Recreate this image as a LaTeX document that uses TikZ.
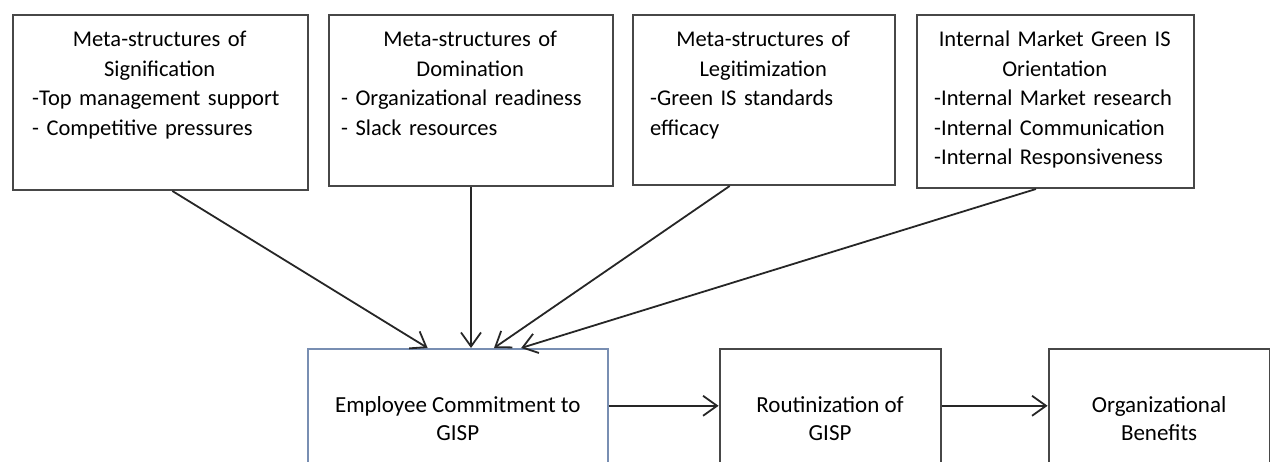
\documentclass[tikz,border=0pt]{standalone}
\usepackage{fontspec}
\setmainfont{Carlito}
\usetikzlibrary{positioning,arrows.meta,calc}
\setlength{\parindent}{0pt}
\hyphenpenalty=10000
\definecolor{empblue}{RGB}{120,142,178}

\begin{document}
\begin{tikzpicture}[
  x=1pt, y=1pt,
  >={Straight Barb[length=14pt,width=20pt]},
  topbox/.style={draw=black!72,line width=2pt,anchor=north west,inner sep=0pt},
  toptext/.style={anchor=north west,inner ysep=17pt,font=\fontsize{22.5}{29.5}\selectfont},
  flowbox/.style={draw=black!72,line width=2pt,minimum height=140pt,align=center,
    font=\fontsize{23}{28}\selectfont},
  arrow/.style={->,line width=1.8pt,draw=black!85}
]
\useasboundingbox (0,0) rectangle (1270,-461);
\clip (0,0) rectangle (1270,-461);

% top row: the four antecedents
\node[topbox,minimum width=295pt,minimum height=175pt] (sig) at (12,-14) {};
\node[topbox,minimum width=284pt,minimum height=171pt,right=19pt of sig.north east,anchor=north west] (dom) {};
\node[topbox,minimum width=262pt,minimum height=170pt,right=18pt of dom.north east,anchor=north west] (leg) {};
\node[topbox,minimum width=277pt,minimum height=173pt,right=20pt of leg.north east,anchor=north west] (ior) {};

\node[toptext,text width=255pt,inner xsep=20pt] (sigt) at (sig.north west)
  {{\centering Meta-structures of\\Signification\par}
   -Top management support\\- Competitive pressures};
\node[toptext,text width=258pt,inner xsep=13pt] (domt) at (dom.north west)
  {{\centering Meta-structures of\\Domination\par}
   - Organizational readiness\\- Slack resources};
\node[toptext,text width=226pt,inner xsep=18pt] (legt) at (leg.north west)
  {{\centering Meta-structures of\\Legitimization\par}
   -Green IS standards\\efficacy};
\node[toptext,text width=253pt,inner xsep=12pt] (iort) at (ior.north west)
  {{\centering Internal Market Green IS\\Orientation\par}
   \hspace*{6pt}-Internal Market research\\\hspace*{6pt}-Internal Communication\\\hspace*{6pt}-Internal Responsiveness};

% bottom row: the chain
\node[flowbox,draw=empblue,line width=1.6pt,minimum width=300pt,anchor=north west] (emp) at (307,-348)
  {Employee Commitment to\\GISP};
\node[flowbox,minimum width=221pt,right=110pt of emp] (rout) {Routinization of\\GISP};
\node[flowbox,minimum width=221pt,right=106pt of rout] (ben) {Organizational\\Benefits};

\draw[arrow] ($(sig.south west)!0.54!(sig.south east)$) -- ($(emp.north west)!0.40!(emp.north east)$);
\draw[arrow] (dom.south) -- (dom.south |- emp.north);
\draw[arrow] ($(leg.south west)!0.37!(leg.south east)$) -- ($(emp.north west)!0.62!(emp.north east)$);
\draw[arrow] ($(ior.south west)!0.43!(ior.south east)$) -- ($(emp.north west)!0.71!(emp.north east)$);
\draw[arrow] ([yshift=13pt]emp.east) -- ([yshift=13pt]rout.west);
\draw[arrow] ([yshift=13pt]rout.east) -- ([yshift=13pt]ben.west);
\end{tikzpicture}
\end{document}
